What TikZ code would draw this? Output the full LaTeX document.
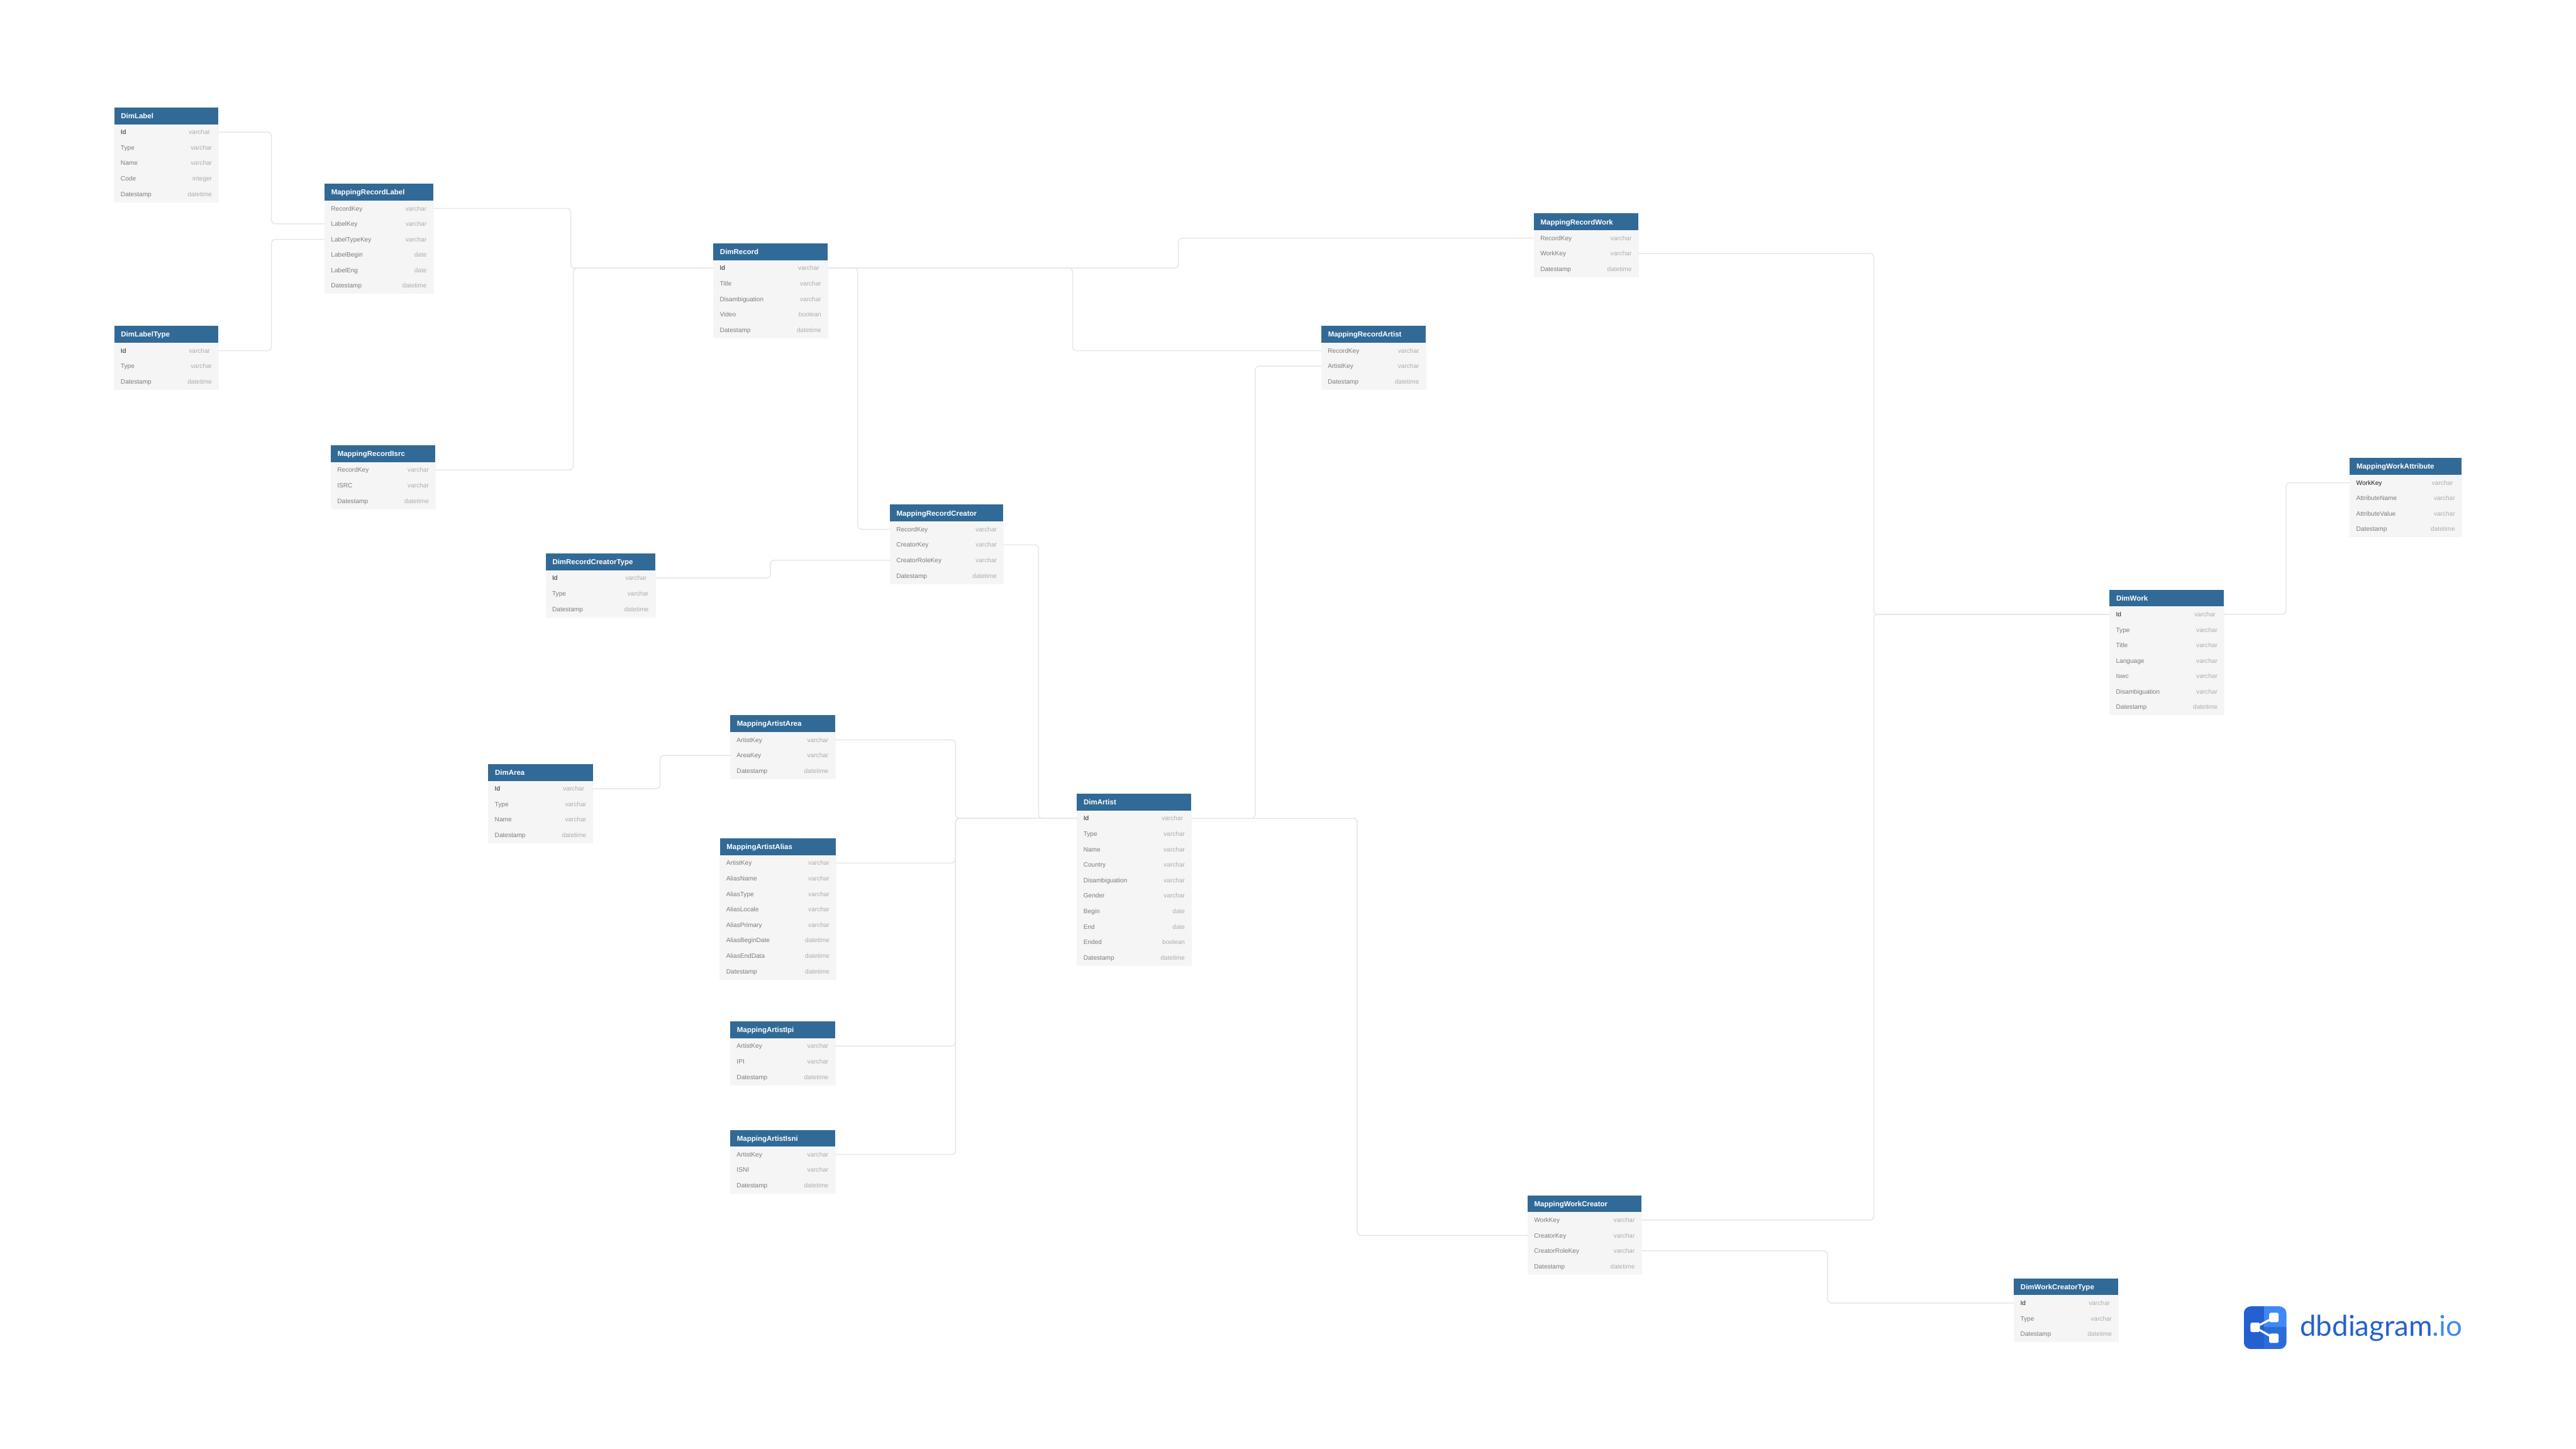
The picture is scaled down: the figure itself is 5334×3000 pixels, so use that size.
\documentclass[tikz,border=0pt]{standalone}
\usepackage{fontspec}
\setmainfont{Liberation Sans}
\newfontfamily\logofont{Lato}
\usetikzlibrary{positioning}
\definecolor{HeadBlue}{HTML}{316A97}
\definecolor{RowFill}{HTML}{F5F5F5}
\definecolor{FieldGray}{HTML}{7C7C7C}
\definecolor{TypeGray}{HTML}{ADADAD}
\definecolor{KeyBlack}{HTML}{1C1C1C}
\definecolor{LineGray}{HTML}{E6E6E6}
\definecolor{LogoDark}{HTML}{2460CF}
\definecolor{LogoMid}{HTML}{2A6CDA}
\definecolor{LogoLight}{HTML}{4088F6}
\newcommand{\pk}[1]{\textcolor{KeyBlack}{#1}}
\newcommand{\pkt}[1]{#1\hspace{1.15pt}}
\newcommand{\dbtable}[6]{%
  \node[tablehead,minimum width={#4*0.01cm},text width={(#4-28)*0.01cm}] (#1) at (#2,#3) {#5};
  \coordinate (#1-0) at (#1.south);
  \foreach \fname/\ftype [count=\i, remember=\i as \prev (initially 0)] in {#6} {
    \node[tablerow,minimum width={#4*0.01cm},text width={(#4-27)*0.01cm},below=0pt of #1-\prev] (#1-\i) {\fname\hfill\textcolor{TypeGray}{\ftype}};
  }
}
\newcommand{\elbow}[3]{\draw[rel] (#1) -- (#1 -| #2) |- (#3);}

\begin{document}
\begin{tikzpicture}[
  x=0.01cm,y=-0.01cm,
  tablehead/.style={anchor=north west,fill=HeadBlue,text=white,minimum height=0.35cm,inner xsep=0.14cm,inner ysep=0pt,outer sep=0pt,align=left,font=\fontsize{4.25}{5}\selectfont\bfseries,text height=3.9pt,text depth=0.8pt},
  tablerow/.style={fill=RowFill,draw=RowFill,line width=0.1pt,text=FieldGray,minimum height=0.32cm,inner xsep=0.135cm,inner ysep=0pt,outer sep=0pt,font=\fontsize{3.74}{4.5}\selectfont,text height=3.4pt,text depth=0.7pt},
  rel/.style={draw=LineGray,line width=0.55pt,rounded corners=2.3pt},
  logopart/.style={fill=white,rounded corners=0.7pt,minimum size=0.195cm,inner sep=0pt,outer sep=0pt},
  logoline/.style={draw=white,line width=1.2pt}
]
\useasboundingbox (0,0) rectangle (5334,3000);

\dbtable{DimLabel}{236.5}{222.5}{216}{DimLabel}{\pk{Id}/\pkt{varchar},Type/varchar,Name/varchar,Code/integer,Datestamp/datetime}
\dbtable{DimLabelType}{236.5}{675}{216}{DimLabelType}{\pk{Id}/\pkt{varchar},Type/varchar,Datestamp/datetime}
\dbtable{RecordLabel}{672}{380.5}{225}{MappingRecordLabel}{RecordKey/varchar,LabelKey/varchar,LabelTypeKey/varchar,LabelBegin/date,LabelEng/date,Datestamp/datetime}
\dbtable{RecordIsrc}{685}{922}{216.5}{MappingRecordIsrc}{RecordKey/varchar,ISRC/varchar,Datestamp/datetime}
\dbtable{DimRecord}{1477}{504}{237}{DimRecord}{\pk{Id}/\pkt{varchar},Title/varchar,Disambiguation/varchar,Video/boolean,Datestamp/datetime}
\dbtable{RecordCreator}{1842.5}{1045}{235}{MappingRecordCreator}{RecordKey/varchar,CreatorKey/varchar,CreatorRoleKey/varchar,Datestamp/datetime}
\dbtable{RecordCreatorType}{1130}{1146}{226.5}{DimRecordCreatorType}{\pk{Id}/\pkt{varchar},Type/varchar,Datestamp/datetime}
\dbtable{RecordArtist}{2736}{675}{216}{MappingRecordArtist}{RecordKey/varchar,ArtistKey/varchar,Datestamp/datetime}
\dbtable{RecordWork}{3176}{442}{216}{MappingRecordWork}{RecordKey/varchar,WorkKey/varchar,Datestamp/datetime}
\dbtable{DimArea}{1011}{1582}{216.5}{DimArea}{\pk{Id}/\pkt{varchar},Type/varchar,Name/varchar,Datestamp/datetime}
\dbtable{ArtistArea}{1512}{1481}{217}{MappingArtistArea}{ArtistKey/varchar,AreaKey/varchar,Datestamp/datetime}
\dbtable{ArtistAlias}{1490.5}{1736}{240.5}{MappingArtistAlias}{ArtistKey/varchar,AliasName/varchar,AliasType/varchar,AliasLocale/varchar,AliasPrimary/varchar,AliasBeginDate/datetime,AliasEndData/datetime,Datestamp/datetime}
\dbtable{ArtistIpi}{1512}{2115}{217}{MappingArtistIpi}{ArtistKey/varchar,IPI/varchar,Datestamp/datetime}
\dbtable{ArtistIsni}{1512}{2339.5}{217}{MappingArtistIsni}{ArtistKey/varchar,ISNI/varchar,Datestamp/datetime}
\dbtable{DimArtist}{2230}{1643.5}{237}{DimArtist}{\pk{Id}/\pkt{varchar},Type/varchar,Name/varchar,Country/varchar,Disambiguation/varchar,Gender/varchar,Begin/date,End/date,Ended/boolean,Datestamp/datetime}
\dbtable{DimWork}{4368}{1221}{237}{DimWork}{\pk{Id}/\pkt{varchar},Type/varchar,Title/varchar,Language/varchar,Iswc/varchar,Disambiguation/varchar,Datestamp/datetime}
\dbtable{WorkAttribute}{4865.5}{948.5}{231.5}{MappingWorkAttribute}{\pk{WorkKey}/\pkt{varchar},AttributeName/varchar,AttributeValue/varchar,Datestamp/datetime}
\dbtable{WorkCreator}{3163}{2475}{235.5}{MappingWorkCreator}{WorkKey/varchar,CreatorKey/varchar,CreatorRoleKey/varchar,Datestamp/datetime}
\dbtable{WorkCreatorType}{4170}{2647}{216.5}{DimWorkCreatorType}{\pk{Id}/\pkt{varchar},Type/varchar,Datestamp/datetime}

\coordinate (labelBus) at (562,0);
\coordinate (recordBusA) at (1182,0);
\coordinate (recordBusB) at (1187,0);
\coordinate (creatorBus) at (1776,0);
\coordinate (artistRecBus) at (2221,0);
\coordinate (workRecBus) at (2440,0);
\coordinate (roleBus) at (1595,0);
\coordinate (creatorArtBus) at (2150.5,0);
\coordinate (areaBus) at (1367,0);
\coordinate (artistBus) at (1978.5,0);
\coordinate (recArtBus) at (2599,0);
\coordinate (workCreBus) at (2810.5,0);
\coordinate (workBus) at (3880,0);
\coordinate (attrBus) at (4733.5,0);
\coordinate (workRoleBus) at (3784,0);

\elbow{DimLabel-1.east}{labelBus}{RecordLabel-2.west}
\elbow{DimLabelType-1.east}{labelBus}{RecordLabel-3.west}
\elbow{RecordLabel-1.east}{recordBusA}{DimRecord-1.west}
\elbow{RecordIsrc-1.east}{recordBusB}{DimRecord-1.west}
\elbow{DimRecord-1.east}{creatorBus}{RecordCreator-1.west}
\elbow{DimRecord-1.east}{artistRecBus}{RecordArtist-1.west}
\elbow{DimRecord-1.east}{workRecBus}{RecordWork-1.west}
\elbow{RecordCreatorType-1.east}{roleBus}{RecordCreator-3.west}
\elbow{RecordCreator-2.east}{creatorArtBus}{DimArtist-1.west}
\elbow{DimArea-1.east}{areaBus}{ArtistArea-2.west}
\elbow{ArtistArea-1.east}{artistBus}{DimArtist-1.west}
\elbow{ArtistAlias-1.east}{artistBus}{DimArtist-1.west}
\elbow{ArtistIpi-1.east}{artistBus}{DimArtist-1.west}
\elbow{ArtistIsni-1.east}{artistBus}{DimArtist-1.west}
\elbow{DimArtist-1.east}{recArtBus}{RecordArtist-2.west}
\elbow{DimArtist-1.east}{workCreBus}{WorkCreator-2.west}
\elbow{RecordWork-2.east}{workBus}{DimWork-1.west}
\elbow{WorkCreator-1.east}{workBus}{DimWork-1.west}
\elbow{DimWork-1.east}{attrBus}{WorkAttribute-1.west}
\elbow{WorkCreator-3.east}{workRoleBus}{WorkCreatorType-1.west}

\begin{scope}
\clip[rounded corners=4.2pt] (4646,2705) rectangle (4734.5,2793.5);
\fill[LogoDark] (4646,2705) rectangle (4688,2793.5);
\fill[LogoLight] (4688,2705) rectangle (4734.5,2748);
\fill[LogoMid] (4688,2748) rectangle (4734.5,2793.5);
\end{scope}
\node[logopart] (logoLeft) at (4669.5,2748.5) {};
\node[logopart] (logoTop) at (4708.5,2728) {};
\node[logopart] (logoBottom) at (4708.5,2771) {};
\draw[logoline] (logoLeft) -- (logoTop);
\draw[logoline] (logoLeft) -- (logoBottom);
\node[anchor=base west,inner sep=0pt,text=LogoDark,font=\fontsize{16.9}{18}\logofont] (logoText) at (4762,2767) {dbdiagram\textcolor{LogoLight}{.io}};
\end{tikzpicture}
\end{document}
